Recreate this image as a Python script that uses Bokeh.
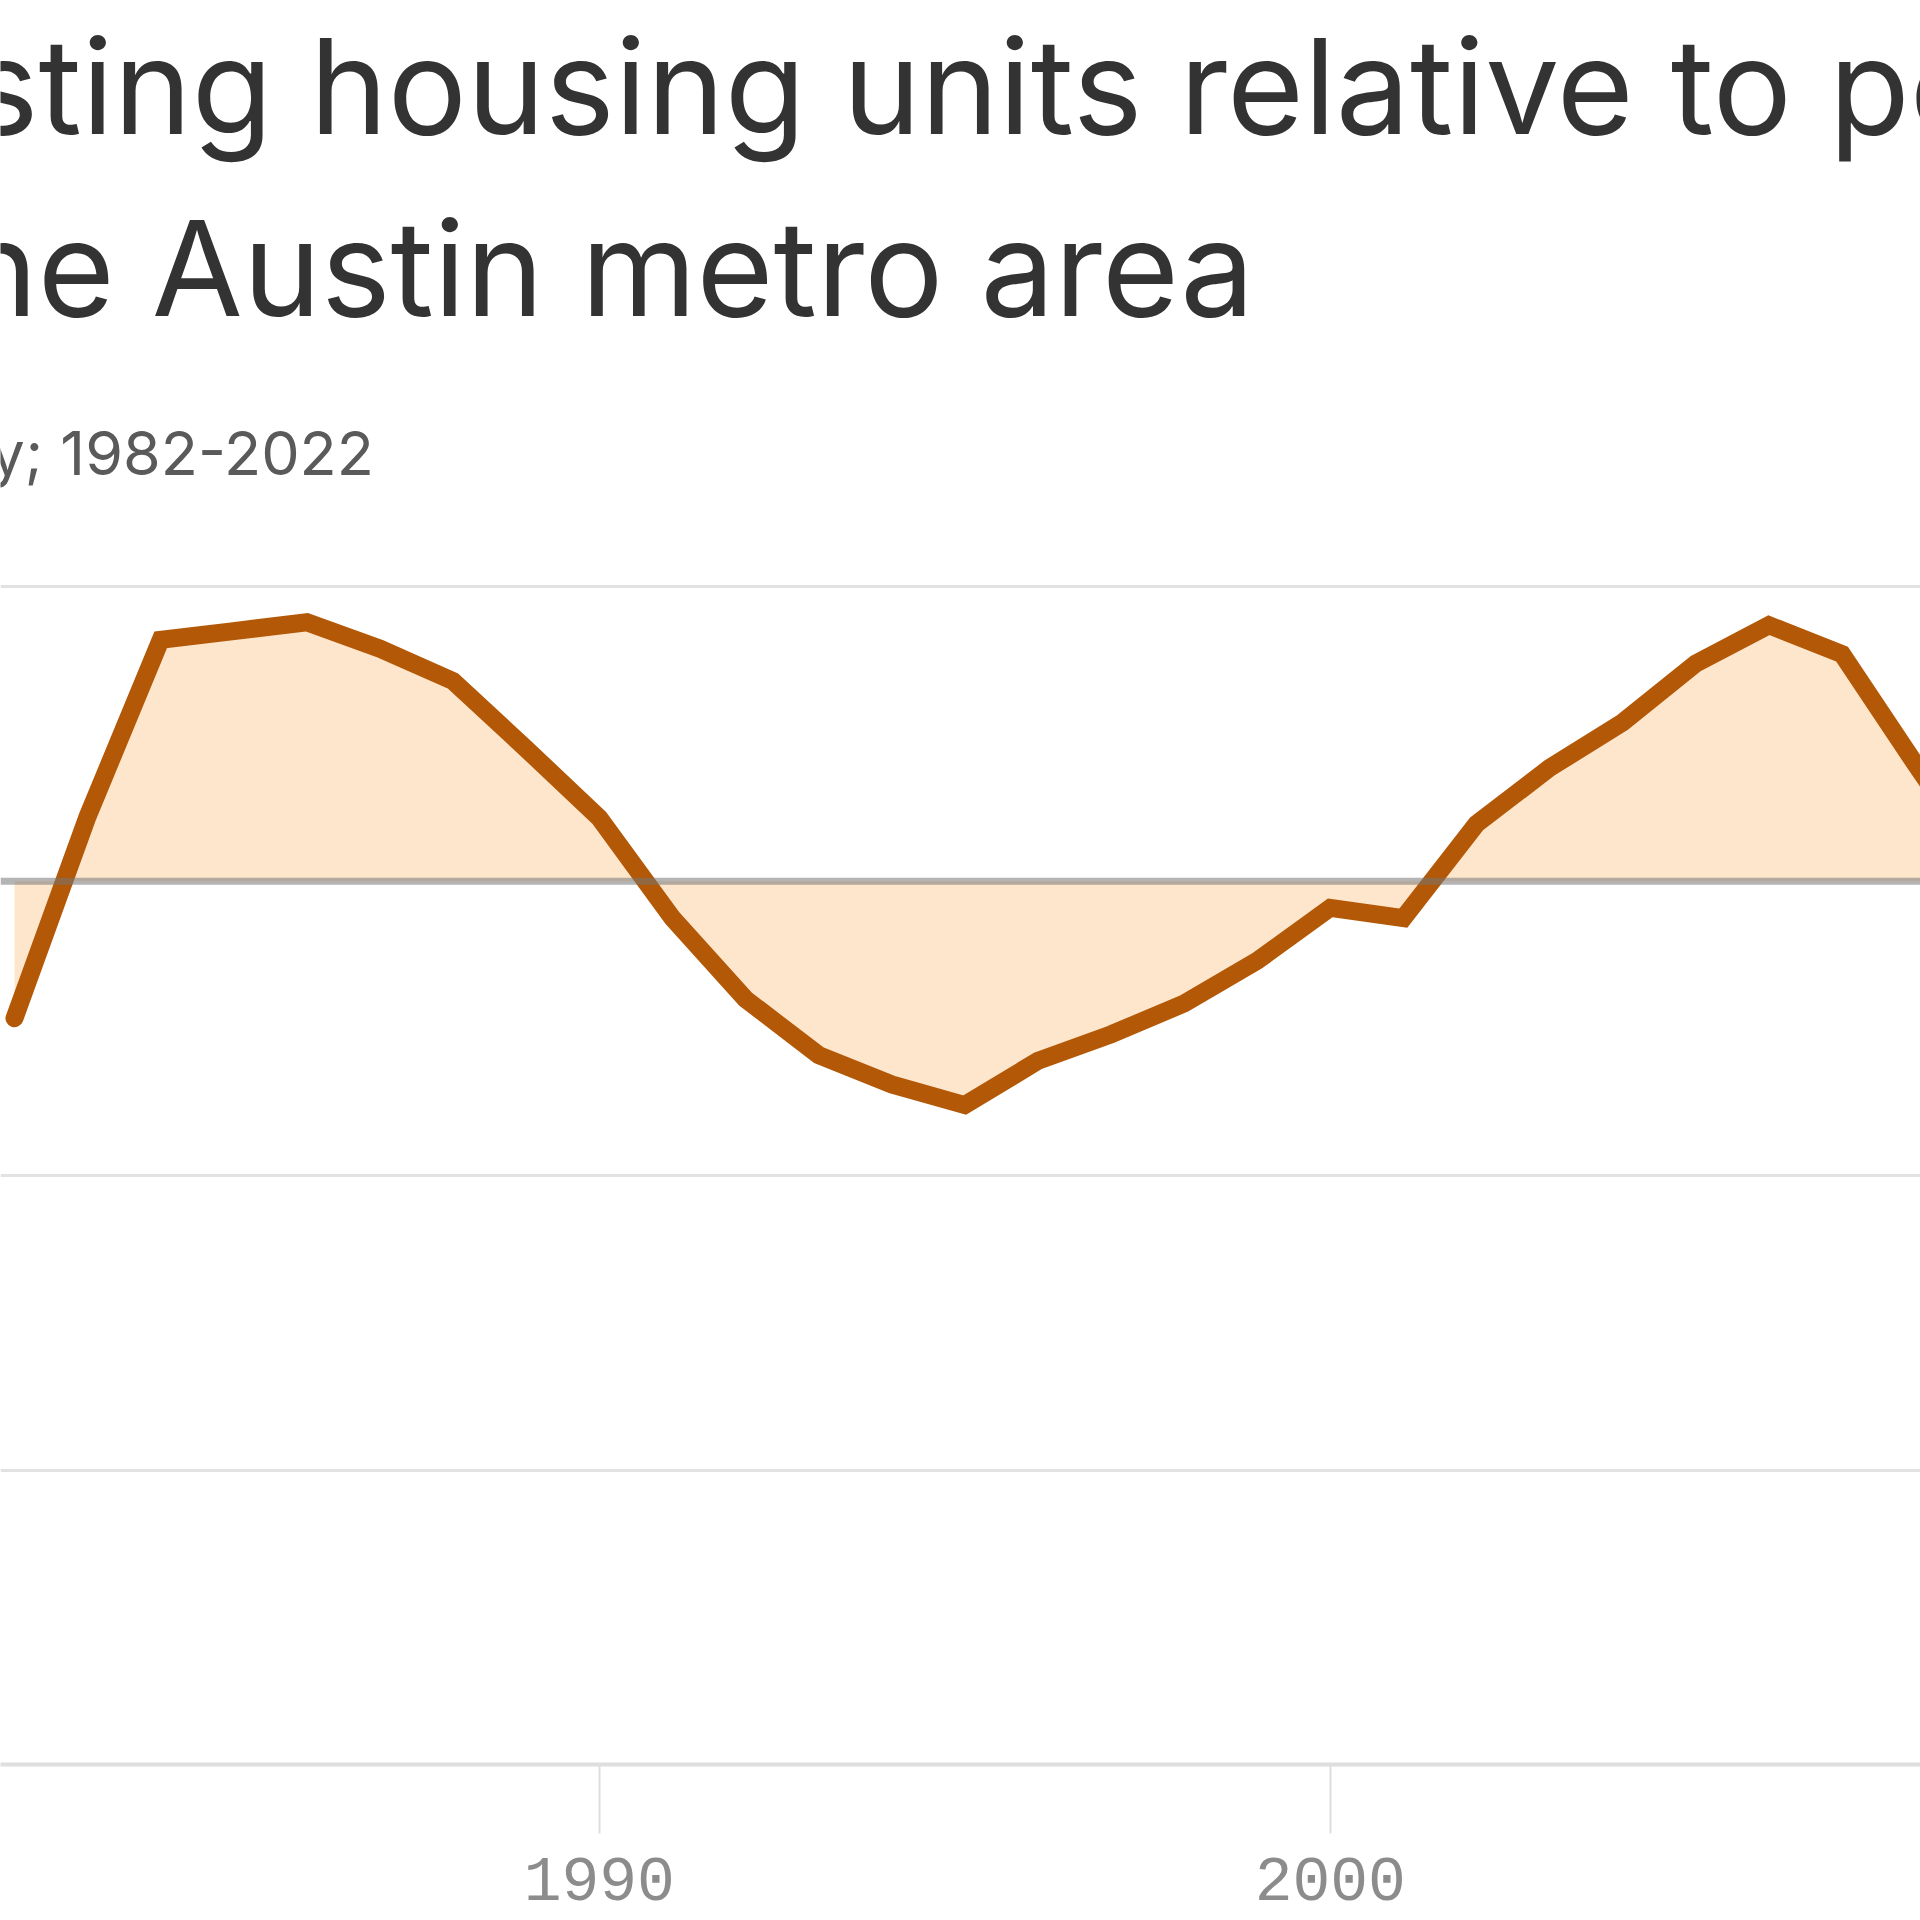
from bokeh.plotting import figure
from bokeh.models import Range1d, FixedTicker, Span, Label, ColumnDataSource, Grid
from bokeh.embed import file_html
from bokeh.resources import INLINE

# ---- data (one unit = one gridline step) ----
years = list(range(1982, 2010))
values = [-0.465, 0.22, 0.82, 0.85, 0.88, 0.79, 0.68, 0.45, 0.215,
          -0.125, -0.40, -0.59, -0.69, -0.76, -0.61, -0.52, -0.415, -0.27,
          -0.09, -0.125, 0.195, 0.385, 0.54, 0.74, 0.87, 0.772, 0.40, 0.04]
zeros = [0.0] * len(years)
x_ticks = [1980, 1990, 2000, 2010]
y_grid = [-2, -1, 1]

title_1 = "Existing housing units relative to population in"
title_2 = "the Austin metro area"
subtitle = "y; 1982-2022"

# ---- layout ----
W = H = 1920
BOTTOM = 156                 # space under the frame for the x axis
PX_PER_YEAR = 73.1
X_START = 1990 - 598.8 / PX_PER_YEAR
X_END = X_START + W / PX_PER_YEAR
PX_PER_UNIT = 294.4
Y_START = -3.0
Y_END = Y_START + (H - BOTTOM) / PX_PER_UNIT


def px_x(px):
    return X_START + px / PX_PER_YEAR


def px_y(py):
    return Y_START + ((H - BOTTOM) - py) / PX_PER_UNIT


p = figure(width=W, height=H, output_backend="svg", toolbar_location=None,
           x_range=Range1d(X_START, X_END), y_range=Range1d(Y_START, Y_END),
           y_axis_location=None,
           min_border_left=0, min_border_right=0, min_border_top=0,
           min_border_bottom=BOTTOM)
p.outline_line_color = None
p.background_fill_color = "white"
p.border_fill_color = "white"

for g in p.xgrid:
    g.grid_line_color = None
for g in list(p.ygrid):
    g.grid_line_color = None
p.add_layout(Grid(dimension=1, ticker=FixedTicker(ticks=y_grid),
                  grid_line_color="#e2e2e2", grid_line_width=3))

ax = p.xaxis[0]
ax.ticker = FixedTicker(ticks=x_ticks)
ax.axis_line_color = "#dedede"
ax.axis_line_width = 4
ax.major_tick_line_color = "#dedede"
ax.major_tick_line_width = 2
ax.major_tick_in = 0
ax.major_tick_out = 69
ax.minor_tick_line_color = None
ax.major_label_text_font = "Liberation Mono"
ax.major_label_text_font_size = "63px"
ax.major_label_text_color = "#8c8c8c"
ax.major_label_standoff = 24

src = ColumnDataSource(dict(year=years, value=values, zero=zeros))
p.varea(x="year", y1="zero", y2="value", source=src, fill_color="#fee6cd", fill_alpha=1.0)
p.line(x="year", y="value", source=src, line_color="#b35806", line_width=18,
       line_join="miter", line_cap="round")

p.add_layout(Span(location=0, dimension="width", line_color="#777777",
                  line_alpha=0.55, line_width=7, level="overlay"))

p.add_layout(Label(x=px_x(-215), y=px_y(85), text=title_1, text_font="Inter",
                   text_font_size="132px", text_color="#333333",
                   text_baseline="alphabetic", text_align="left"))
p.add_layout(Label(x=px_x(-84), y=px_y(267), text=title_2, text_font="Inter",
                   text_font_size="132px", text_color="#333333",
                   text_baseline="alphabetic", text_align="left"))
p.add_layout(Label(x=px_x(-10), y=px_y(452), text=subtitle, text_font="Inter",
                   text_font_size="61px", text_color="#5a5a5a",
                   text_baseline="alphabetic", text_align="left"))

open("out.html", "w").write(file_html(p, INLINE))
